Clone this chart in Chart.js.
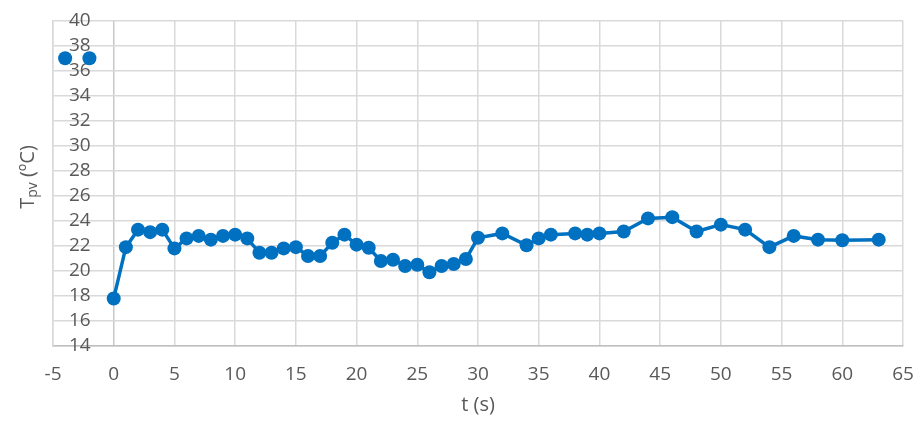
<!DOCTYPE html>
<html>
<head>
<meta charset="utf-8">
<script src="https://cdn.jsdelivr.net/npm/chart.js@4"></script>
<style>
  html, body { margin: 0; padding: 0; background: #ffffff; }
  #wrap { width: 921px; height: 421px; }
</style>
</head>
<body>
<div id="wrap"><canvas id="c"></canvas></div>
<script>
// Panel temperature over time.
const times = [0, 1, 2, 3, 4, 5, 6, 7, 8, 9, 10, 11, 12, 13, 14, 15, 16, 17, 18, 19,
  20, 21, 22, 23, 24, 25, 26, 27, 28, 29, 30, 32, 34, 35, 36, 38, 39, 40, 42, 44,
  46, 48, 50, 52, 54, 56, 58, 60, 63];
const temps = [17.8, 21.9, 23.3, 23.1, 23.3, 21.8, 22.6, 22.8, 22.5, 22.8, 22.9, 22.6,
  21.45, 21.45, 21.8, 21.9, 21.2, 21.2, 22.25, 22.9, 22.1, 21.85, 20.8, 20.9, 20.4,
  20.5, 19.9, 20.4, 20.55, 20.95, 22.65, 23.0, 22.05, 22.6, 22.9, 23.0, 22.9, 23.0,
  23.15, 24.2, 24.3, 23.15, 23.7, 23.3, 21.9, 22.8, 22.5, 22.45, 22.5];

// the two loose markers left of t = 0
const preTimes = [-4, -2];
const preTemps = [37, 37];

const xTicks = { min: -5, max: 65, step: 5 };
const yTicks = { min: 14, max: 40, step: 2 };

const BLUE = "#0070C0";
const GRID = "#d9d9d9";
const TEXT = "#595959";
const FONT = "'Open Sans', sans-serif";

const toPoints = (xs, ys) => xs.map((x, i) => ({ x, y: ys[i] }));

// y title needs a subscript, so it is drawn by hand
const yTitle = {
  id: "yTitle",
  afterDraw(chart) {
    const { ctx } = chart;
    const parts = [
      { s: "T", size: 20, dy: 0 },
      { s: "pv", size: 14, dy: 5 },
      { s: " (ºC)", size: 20, dy: 0 },
    ];
    ctx.save();
    let total = 0;
    parts.forEach((p) => {
      ctx.font = p.size + "px " + FONT;
      p.w = ctx.measureText(p.s).width;
      total += p.w;
    });
    ctx.translate(28, 177);
    ctx.rotate(-Math.PI / 2);
    ctx.fillStyle = TEXT;
    ctx.textBaseline = "middle";
    let x = -total / 2;
    parts.forEach((p) => {
      ctx.font = p.size + "px " + FONT;
      ctx.fillText(p.s, x, p.dy);
      x += p.w;
    });
    ctx.restore();
  },
};

new Chart(document.getElementById("c"), {
  type: "scatter",
  data: {
    datasets: [
      {
        data: toPoints(times, temps),
        showLine: true,
        borderColor: BLUE,
        backgroundColor: BLUE,
        borderWidth: 3.5,
        pointRadius: 7,
        pointBorderWidth: 0,
        tension: 0,
      },
      {
        data: toPoints(preTimes, preTemps),
        showLine: false,
        borderColor: BLUE,
        backgroundColor: BLUE,
        pointRadius: 7,
        pointBorderWidth: 0,
      },
    ],
  },
  options: {
    responsive: true,
    maintainAspectRatio: false,
    animation: false,
    layout: { padding: { left: 21, right: 18, top: 13, bottom: 6 } },
    plugins: { legend: { display: false }, tooltip: { enabled: false } },
    scales: {
      x: {
        type: "linear",
        min: xTicks.min,
        max: xTicks.max,
        ticks: {
          stepSize: xTicks.step,
          color: TEXT,
          font: { family: FONT, size: 19, lineHeight: 1 },
          padding: 0,
          autoSkip: false,
          maxRotation: 0,
        },
        grid: {
          color: (c) => (c.tick && c.tick.value === 0 ? "#c8c8c8" : GRID),
          lineWidth: 1.5,
          drawTicks: true,
          tickLength: 19,
          tickColor: "rgba(0,0,0,0)",
        },
        border: { color: "#bfbfbf", width: 1.5 },
        title: {
          display: true,
          text: "t (s)",
          color: TEXT,
          font: { family: FONT, size: 20, lineHeight: 1 },
          padding: { top: 11, bottom: 0 },
        },
      },
      y: {
        min: yTicks.min,
        max: yTicks.max,
        ticks: {
          stepSize: yTicks.step,
          color: TEXT,
          font: { family: FONT, size: 19, lineHeight: 0.5 },
          mirror: true,
          padding: 16,
          autoSkip: false,
        },
        grid: { color: GRID, lineWidth: 1.5, drawTicks: false },
        border: { color: GRID, width: 1.5 },
      },
    },
  },
  plugins: [yTitle],
});
</script>
</body>
</html>
